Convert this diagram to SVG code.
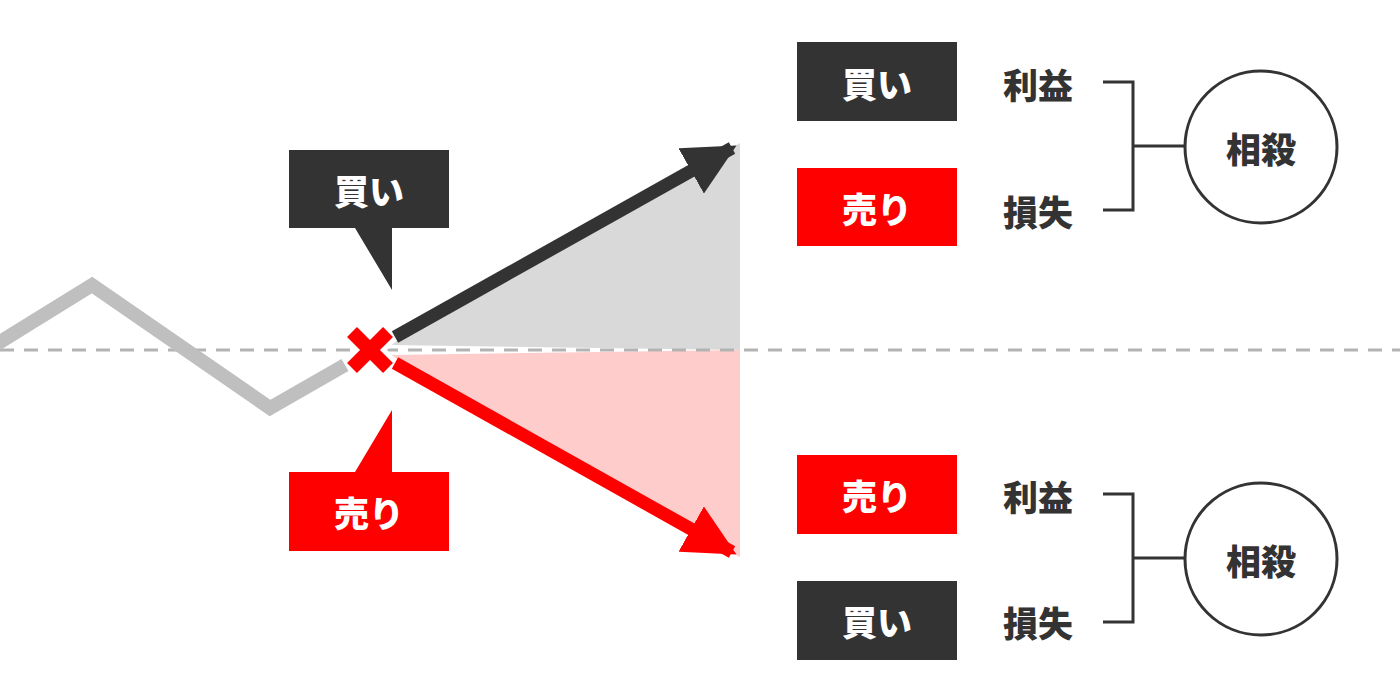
<svg xmlns="http://www.w3.org/2000/svg" width="1400" height="700" viewBox="0 0 1400 700">
<style>
.t{font-family:"Noto Sans CJK JP","Noto Sans CJK SC",sans-serif;font-weight:900;font-size:35px;text-anchor:middle;dominant-baseline:central}
.w{fill:#fff}.k{fill:#333}
.br{fill:none;stroke:#333;stroke-width:3}
</style>
<defs>
<marker id="ak" viewBox="0 0 10 10" refX="9" refY="5" markerWidth="4" markerHeight="4" orient="auto" markerUnits="strokeWidth"><path d="M0,0L10,5L0,10z" fill="#333"/></marker>
<marker id="ar" viewBox="0 0 10 10" refX="9" refY="5" markerWidth="4" markerHeight="4" orient="auto" markerUnits="strokeWidth"><path d="M0,0L10,5L0,10z" fill="#f00"/></marker>
</defs>
<rect width="1400" height="700" fill="#fff"/>
<polygon points="390,345 740,143 740,350" fill="#d9d9d9"/>
<polygon points="390,355 740,350 740,557" fill="#ffcccc"/>
<line x1="0" y1="350" x2="1400" y2="350" stroke="#b3b3b3" stroke-width="3" stroke-dasharray="14,10"/>
<polyline points="-5,345 92,285 270,408 345,365" fill="none" stroke="#bfbfbf" stroke-width="14"/>
<g id="connectors">
<line x1="395" y1="337" x2="732" y2="148" stroke="#333" stroke-width="13" marker-end="url(#ak)"/>
<line x1="395" y1="363" x2="732" y2="552" stroke="#f00" stroke-width="13" marker-end="url(#ar)"/>
<path class="br" d="M1103,82H1133V210H1103M1133,146H1185"/>
<path class="br" d="M1103,494H1133V622H1103M1133,558H1185"/>
</g>
<g id="xmark">
<path d="M352,332L388,368M388,332L352,368" stroke="#fff" stroke-width="24"/>
<path d="M352,332L388,368M388,332L352,368" stroke="#f00" stroke-width="14"/>
</g>
<g id="callout-buy"><path d="M289,150H449V228H392V290L355,228H289z" fill="#333"/><text class="t w" x="369" y="189">買い</text></g>
<g id="callout-sell"><path d="M289,472H355L392,410V472H449V551H289z" fill="#f00"/><text class="t w" x="369" y="511">売り</text></g>
<g id="b1"><rect x="797" y="42" width="160" height="79" fill="#333"/><text class="t w" x="877" y="82">買い</text></g>
<g id="b2"><rect x="797" y="168" width="160" height="78" fill="#f00"/><text class="t w" x="877" y="207">売り</text></g>
<g id="b3"><rect x="797" y="455" width="160" height="79" fill="#f00"/><text class="t w" x="877" y="494">売り</text></g>
<g id="b4"><rect x="797" y="581" width="160" height="79" fill="#333"/><text class="t w" x="877" y="620">買い</text></g>
<g id="labels">
<text class="t k" x="1038" y="83">利益</text>
<text class="t k" x="1038" y="210">損失</text>
<text class="t k" x="1038" y="495">利益</text>
<text class="t k" x="1038" y="621">損失</text>
</g>
<g id="c1"><circle cx="1261" cy="147" r="76" fill="#fff" stroke="#333" stroke-width="3"/><text class="t k" x="1261" y="147">相殺</text></g>
<g id="c2"><circle cx="1261" cy="559" r="76" fill="#fff" stroke="#333" stroke-width="3"/><text class="t k" x="1261" y="559">相殺</text></g>
</svg>
